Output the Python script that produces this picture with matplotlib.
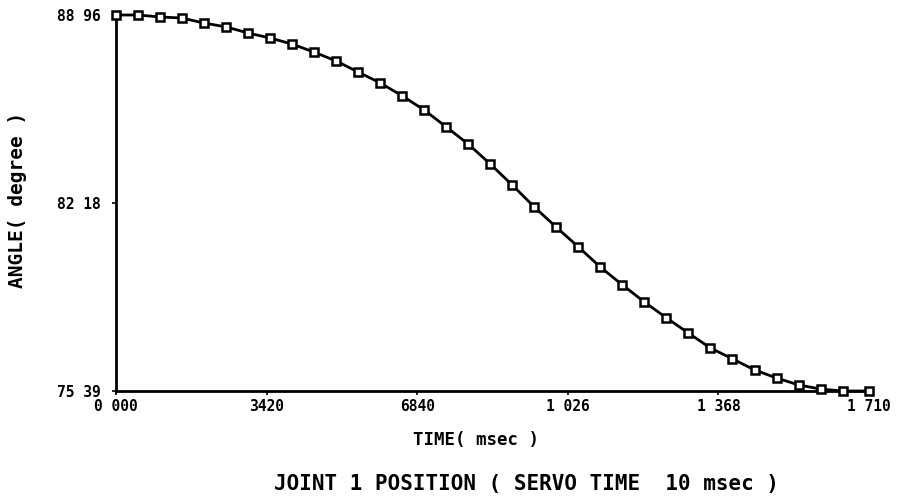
import matplotlib.pyplot as plt

time_s = [0.00, 0.05, 0.10, 0.15, 0.20, 0.25, 0.30, 0.35, 0.40, 0.45,
          0.50, 0.55, 0.60, 0.65, 0.70, 0.75, 0.80, 0.85, 0.90, 0.95,
          1.00, 1.05, 1.10, 1.15, 1.20, 1.25, 1.30, 1.35, 1.40, 1.45,
          1.50, 1.55, 1.60, 1.65, 1.71]
angle_deg = [88.96, 88.96, 88.89, 88.85, 88.67, 88.53, 88.31, 88.13, 87.91, 87.62,
             87.30, 86.90, 86.51, 86.04, 85.53, 84.92, 84.30, 83.58, 82.82, 82.03,
             81.30, 80.59, 79.86, 79.22, 78.60, 78.03, 77.48, 76.94, 76.55, 76.15,
             75.86, 75.61, 75.46, 75.39, 75.39]

x_ticks = [0.0, 0.342, 0.684, 1.026, 1.368, 1.710]
x_tick_labels = ["0 000", "3420", "6840", "1 026", "1 368", "1 710"]
y_ticks = [75.39, 82.18, 88.96]
y_tick_labels = ["75 39", "82 18", "88 96"]

mono = "DejaVu Sans Mono"

fig = plt.figure(figsize=(9.02, 4.99), dpi=100)
ax = fig.add_axes([116 / 902, 1 - 391 / 499, (869 - 116) / 902, (391 - 15) / 499])

ax.plot(time_s, angle_deg, color="black", lw=2.0, marker="s", ms=6,
        mfc="white", mec="black", mew=1.8, clip_on=False, zorder=3)

ax.set_xlim(0, 1.71)
ax.set_ylim(75.39, 88.96)
ax.spines["top"].set_visible(False)
ax.spines["right"].set_visible(False)
ax.spines["left"].set_linewidth(2)
ax.spines["bottom"].set_linewidth(2)

ax.set_xticks(x_ticks)
ax.set_xticklabels(x_tick_labels, family=mono, fontweight="bold", fontsize=10.5)
ax.set_yticks(y_ticks)
ax.set_yticklabels(y_tick_labels, family=mono, fontweight="bold", fontsize=10.5)
ax.tick_params(axis="x", length=3, width=1.2, pad=3)
ax.tick_params(axis="y", length=3, width=1.2, pad=8)

fig.text(18 / 902, 1 - 200 / 499, "ANGLE( degree )", rotation=90, ha="center",
         va="center", family=mono, fontweight="bold", fontsize=14)
fig.text(476 / 902, 1 - 440 / 499, "TIME( msec )", ha="center", va="center",
         family=mono, fontweight="bold", fontsize=12.5)
fig.text(527 / 902, 1 - 484 / 499, "JOINT 1 POSITION ( SERVO TIME  10 msec )",
         ha="center", va="center", family=mono, fontweight="bold", fontsize=15)

fig.savefig("out.png", dpi=100)
